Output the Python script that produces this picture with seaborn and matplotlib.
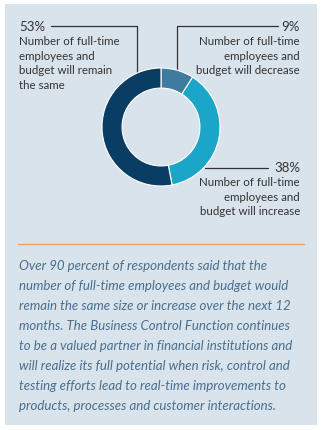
import matplotlib
matplotlib.use("Agg")
import matplotlib.pyplot as plt
import seaborn as sns

sns.set_theme(style="white")
plt.rcParams['font.family'] = ['Lato', 'DejaVu Sans']

# Data
categories = ["decrease", "increase", "remain the same"]
values = [9, 38, 53]
pct_labels = ["9%", "38%", "53%"]
desc_labels = [
    "Number of full-time\nemployees and\nbudget will decrease",
    "Number of full-time\nemployees and\nbudget will increase",
    "Number of full-time\nemployees and\nbudget will remain\nthe same",
]
colors = sns.color_palette(["#3f7b9f", "#1ba6c8", "#0a3d63"])
body_text = ("Over 90 percent of respondents said that the\n"
             "number of full-time employees and budget would\n"
             "remain the same size or increase over the next 12\n"
             "months. The Business Control Function continues\n"
             "to be a valued partner in financial institutions and\n"
             "will realize its full potential when risk, control and\n"
             "testing efforts lead to real-time improvements to\n"
             "products, processes and customer interactions.")

W, H = 323, 430
fig = plt.figure(figsize=(W / 100, H / 100), dpi=100)
fig.patch.set_facecolor("white")

# background axes in pixel coordinates
bg = fig.add_axes([0, 0, 1, 1])
bg.set_xlim(0, W)
bg.set_ylim(H, 0)
bg.axis("off")
bg.add_patch(plt.Rectangle((5, 4), 312, 421, facecolor="#d8e3eb", edgecolor="none"))

# donut
cx, cy, r = 161, 127, 59
pie_ax = fig.add_axes([(cx - r) / W, 1 - (cy + r) / H, 2 * r / W, 2 * r / H])
pie_ax.pie(values, colors=colors, startangle=90, counterclock=False,
           wedgeprops=dict(width=0.34, edgecolor="white", linewidth=0.8))
pie_ax.set_aspect("equal")
pie_ax.set_xlim(-1, 1)
pie_ax.set_ylim(-1, 1)
pie_ax.axis("off")

txt_col = "#333333"
line_col = "#333333"
fs = 8.3
ls = 1.4

# 53% label
bg.text(19, 27, pct_labels[2], fontsize=fs + 1.2, color=txt_col, ha="left", va="center")
bg.text(19, 36, desc_labels[2], fontsize=fs, color=txt_col, ha="left", va="top", linespacing=ls)
bg.plot([51, 137, 137], [26, 26, 74], color=line_col, lw=0.9)

# 9% label
bg.text(300, 27, pct_labels[0], fontsize=fs + 1.2, color=txt_col, ha="right", va="center")
bg.text(300, 36, desc_labels[0], fontsize=fs, color=txt_col, ha="right", va="top", linespacing=ls,
        multialignment="right")
bg.plot([278, 177, 177], [26, 26, 80], color=line_col, lw=0.9)

# 38% label
bg.text(300, 168, pct_labels[1], fontsize=fs + 1.2, color=txt_col, ha="right", va="center")
bg.text(300, 177, desc_labels[1], fontsize=fs, color=txt_col, ha="right", va="top", linespacing=ls,
        multialignment="right")
bg.plot([205, 268], [168, 168], color=line_col, lw=0.9)

# separator
bg.plot([18, 304], [244, 244], color="#e9a261", lw=1.0)

# body text
bg.text(19, 260, body_text, fontsize=9.5, color="#4a6f8f", style="italic",
        ha="left", va="top", linespacing=1.8)

fig.savefig("out.png", dpi=100, facecolor="white")
